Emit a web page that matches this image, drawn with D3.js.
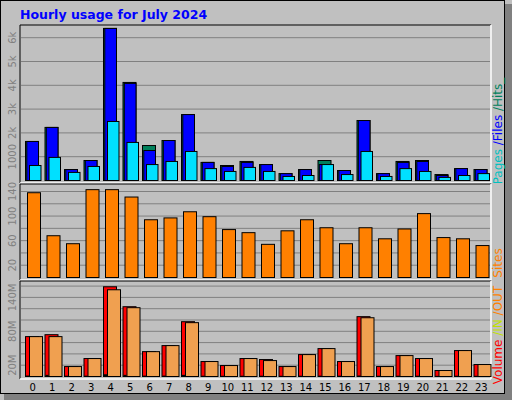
<!DOCTYPE html><html><head><meta charset="utf-8">
<script src="https://cdn.jsdelivr.net/npm/d3@7"></script>
<style>body{margin:0;background:#fff}</style></head><body>
<script>
const hours=d3.range(24).map(String);
const hits=[1640,2230,460,840,6390,4120,1470,1680,2770,760,630,800,670,290,460,840,420,2520,290,800,840,250,500,460];
const files=[1640,2230,460,840,6390,4080,1260,1680,2770,760,590,760,670,290,460,670,420,2520,290,760,800,210,500,460];
const pages=[630,970,340,590,2480,1600,670,800,1220,500,380,550,380,170,210,670,250,1220,170,500,380,130,210,290];
const sites=[138,68,55,143,143,131,94,97,107,99,78,73,54,76,94,81,55,81,63,79,104,65,63,52];
const volume=[70.6,74,17.6,31.8,158.8,123.5,44,54.7,97,26.5,19.4,31.8,30,17.6,38.8,49.4,26.5,105.9,17.6,37,31.8,10.6,45.9,21.2];
const volOut=[70.6,70.6,17.6,31.8,153.5,121.8,44,54.7,95.3,26.5,19.4,31.8,28.2,17.6,38.8,49.4,26.5,104,17.6,37,31.8,10.6,45.9,21.2];
const volIn=[0.8,2,0.5,0.6,3,2,0.6,0.7,2,0.5,0.4,0.5,0.5,0.4,0.5,0.6,0.5,0.8,0.4,0.5,0.5,0.3,0.5,0.4];
const hitTicks=[1000,2000,3000,4000,5000,6000],hitLabels=["1000","2k","3k","4k","5k","6k"];
const siteTicks=[20,40,60,80,100,120,140],siteLabels=["20",null,"60",null,"100",null,"140"];
const volTicks=[20,40,60,80,100,120,140,160],volLabels=["20M",null,null,"80M",null,null,"140M",null];

const svg=d3.select("body").append("svg").attr("width",512).attr("height",400).style("font-family","DejaVu Sans, Arial, sans-serif");
svg.append("rect").attr("width",512).attr("height",400).attr("fill","#c0c0c0");
svg.append("rect").attr("x",505).attr("y",4).attr("width",7).attr("height",396).attr("fill","#808080");
svg.append("rect").attr("x",4).attr("y",394).attr("width",508).attr("height",6).attr("fill","#808080");
svg.append("rect").attr("x",0.5).attr("y",0.5).attr("width",504).attr("height",393).attr("fill","none").attr("stroke","#000");
svg.append("text").attr("x",20).attr("y",19).attr("fill","#0000ff").attr("font-weight","bold").attr("font-size",12.5).text("Hourly usage for July 2024");

const x=d3.scaleBand().domain(hours).range([21,489]);
const bw=x.bandwidth();
function panel(y0,y1){
  svg.append("line").attr("x1",20).attr("x2",491).attr("y1",y0).attr("y2",y0).attr("stroke","#000");
  svg.append("line").attr("x1",20).attr("x2",20).attr("y1",y0).attr("y2",y1).attr("stroke","#000");
  svg.append("line").attr("x1",20).attr("x2",491).attr("y1",y1).attr("y2",y1).attr("stroke","#fff").attr("stroke-width",1.5);
  svg.append("line").attr("x1",491).attr("x2",491).attr("y1",y0).attr("y2",y1).attr("stroke","#fff").attr("stroke-width",1.5);
}
function grid(y,ticks,labels){
  ticks.forEach((t,i)=>{
    svg.append("line").attr("x1",21).attr("x2",490).attr("y1",y(t)).attr("y2",y(t)).attr("stroke","#808080");
    if(labels[i]!==null) svg.append("text").attr("transform",`translate(16,${y(t)}) rotate(-90)`).attr("text-anchor","middle").attr("fill","#808080").attr("font-size",10).text(labels[i]);
  });
}
function bars(data,y,color,dx,w){
  svg.append("g").selectAll("rect").data(data).join("rect")
   .attr("x",(d,i)=>x(hours[i])+dx).attr("y",d=>y(d)).attr("width",w).attr("height",d=>y(0)-y(d))
   .attr("fill",color).attr("stroke","#000").attr("stroke-width",1);
}
const y1=d3.scaleLinear().domain([0,1000]).range([180.5,156.7]);
panel(25,183);
grid(y1,hitTicks,hitLabels);
bars(hits,y1,"#00805c",4.5,13);
bars(files,y1,"#0000ff",5.8,11.7);
bars(pages,y1,"#00e0ff",8.5,11.5);
const y2=d3.scaleLinear().domain([0,140]).range([277.5,191.5]);
panel(184,280);
grid(y2,siteTicks,siteLabels);
bars(sites,y2,"#ff8000",6.5,13);
const y3=d3.scaleLinear().domain([0,20]).range([376.5,365.2]);
panel(281,379);
grid(y3,volTicks,volLabels);
bars(volume,y3,"#ff0000",4.5,13);
bars(volOut,y3,"#f0a050",8.5,13);
bars(volIn,y3,"#00c000",5.5,2);
svg.append("g").selectAll("text").data(hours).join("text").attr("x",d=>x(d)+bw/2+2).attr("y",391).attr("text-anchor","middle").attr("font-size",10).attr("fill","#000").text(d=>d);
function rlab(cy,parts){
  const t=svg.append("text").attr("transform",`translate(502,${cy}) rotate(-90)`).attr("text-anchor","middle").attr("font-size",12);
  parts.forEach(p=>t.append("tspan").attr("fill",p[1]).text(p[0]));
}
rlab(131,[["Pages","#00c0c0"],[" /","#0000ff"],["Files","#0000ff"],[" /","#00805c"],["Hits","#00805c"],["_","#00805c"]]);
rlab(263,[["Sites","#ff8000"]]);
rlab(335,[["Volume","#ff0000"],[" /","#c0e000"],["IN","#c0e000"],[" /","#ff8000"],["OUT","#ff8000"]]);
</script></body></html>
